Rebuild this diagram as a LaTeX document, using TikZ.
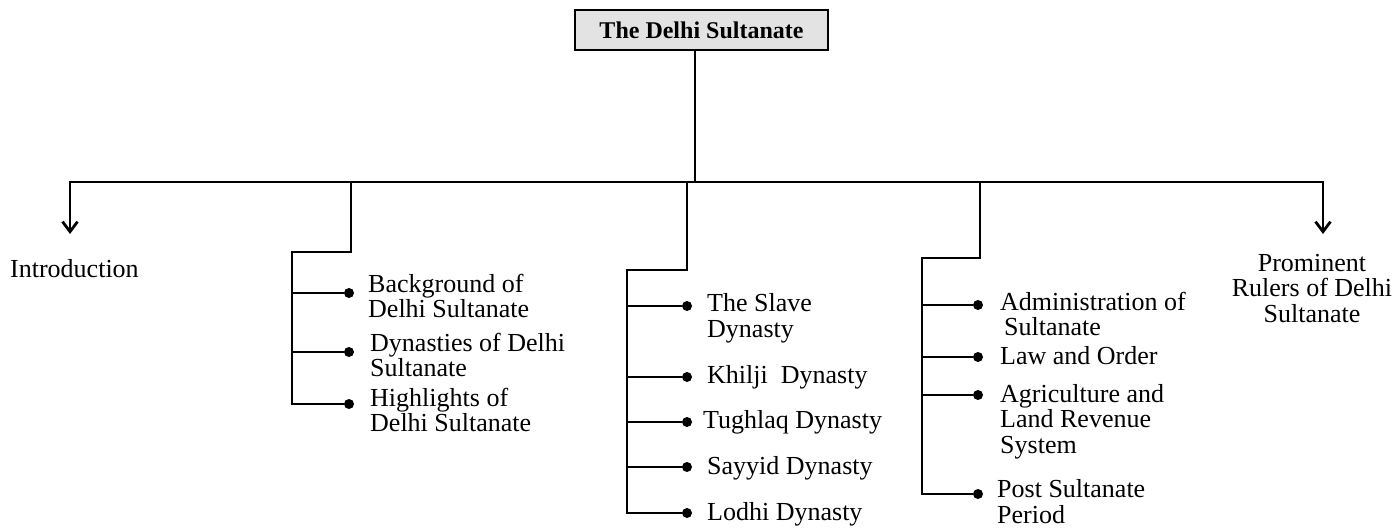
\documentclass[tikz,border=0pt]{standalone}
\usepackage{fontspec}
\setmainfont{Liberation Serif}
\usetikzlibrary{arrows.meta}
\begin{document}
\begin{tikzpicture}[x=1pt,y=-1pt,
  link/.style={line width=2.8pt, line join=miter},
  barb/.style={link, {Straight Barb[length=10pt,width=15pt]}-{Straight Barb[length=10pt,width=15pt]}},
  dot/.style={circle, fill=black, inner sep=0pt, minimum size=10pt},
  item/.style={anchor=base west, inner sep=0pt, align=left,
    font=\fontsize{26}{25.5}\selectfont},
  title/.style={draw, fill=gray!22, line width=1.6pt, inner sep=0pt,
    minimum width=253pt, minimum height=40pt,
    font=\bfseries\fontsize{24}{24}\selectfont},
]
\useasboundingbox (0,0) rectangle (1397,529);

% root box and main bus
\node[title] (root) at (701.5,30) {The Delhi Sultanate};
\coordinate (hub) at (695,182);
\coordinate (busL) at (70,182);
\coordinate (busR) at (1323,182);
\coordinate (introTip) at (70,234);
\coordinate (rulersTip) at (1323,234);
\draw[link] (root.south -| hub) -- (hub);
\draw[barb] (introTip) -- (busL) -- (busR) -- (rulersTip);

% leaf headings (multi-line items are placed by their last baseline)
\node[item] (intro) at (10,277) {Introduction};
\node[item, anchor=base, align=center] (rulers) at (1312,322)
  {Prominent\\Rulers of Delhi\\Sultanate};

% second branch
\coordinate (b2a) at (351,182);
\coordinate (b2b) at (351,252);
\coordinate (b2c) at (292,252);
\node[dot] (d21) at (349,293) {};
\node[dot] (d22) at (349,352) {};
\node[dot] (d23) at (349,404) {};
\draw[link] (b2a) -- (b2b) -- (b2c) |- (d23);
\draw[link] (b2c |- d21) -- (d21);
\draw[link] (b2c |- d22) -- (d22);
\node[item] (t21) at (368,317.5) {Background of\\Delhi Sultanate};
\node[item] (t22) at (370,376.5) {Dynasties of Delhi\\Sultanate};
\node[item] (t23) at (370,431.5) {Highlights of\\Delhi Sultanate};

% third branch
\coordinate (b3a) at (687,182);
\coordinate (b3b) at (687,270);
\coordinate (b3c) at (627,270);
\node[dot] (d31) at (687,306) {};
\node[dot] (d32) at (687,377) {};
\node[dot] (d33) at (687,422) {};
\node[dot] (d34) at (687,467) {};
\node[dot] (d35) at (687,513) {};
\draw[link] (b3a) -- (b3b) -- (b3c) |- (d35);
\foreach \d in {d31,d32,d33,d34}
  \draw[link] (b3c |- \d) -- (\d);
\node[item] (t31) at (707,337.5) {The Slave\\Dynasty};
\node[item] (t32) at (707,383) {Khilji\ \ Dynasty};
\node[item] (t33) at (703,428) {Tughlaq Dynasty};
\node[item] (t34) at (707,474) {Sayyid Dynasty};
\node[item] (t35) at (707,520) {Lodhi Dynasty};

% fourth branch
\coordinate (b4a) at (980,182);
\coordinate (b4b) at (980,258);
\coordinate (b4c) at (922,258);
\node[dot] (d41) at (978,305) {};
\node[dot] (d42) at (978,357) {};
\node[dot] (d43) at (978,395) {};
\node[dot] (d44) at (978,494) {};
\draw[link] (b4a) -- (b4b) -- (b4c) |- (d44);
\foreach \d in {d41,d42,d43}
  \draw[link] (b4c |- \d) -- (\d);
\node[item] (t41) at (1000,335.5) {Administration of\\\hspace*{4pt}Sultanate};
\node[item] (t42) at (1000,364) {Law and Order};
\node[item] (t43) at (1000,453) {Agriculture and\\Land Revenue\\System};
\node[item] (t44) at (997,523) {Post Sultanate\\Period};
\end{tikzpicture}
\end{document}
